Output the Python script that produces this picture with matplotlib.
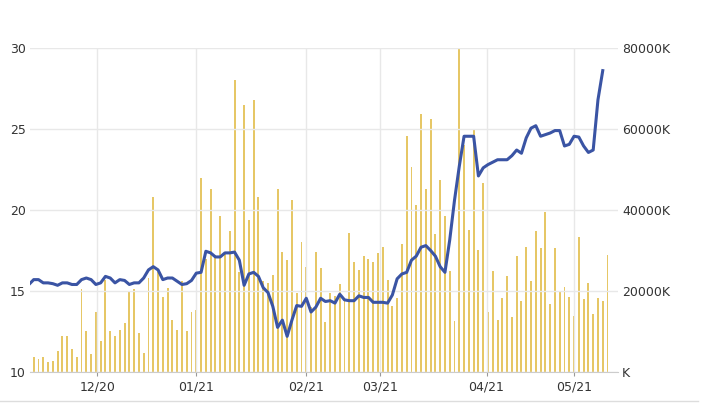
import matplotlib.pyplot as plt
import numpy as np

# bar values read in left-axis units (10..30), converted to K below
bars_left = [10.9, 10.8, 10.9, 10.6, 10.7, 11.3, 12.2, 12.2, 11.4, 10.9, 15.1, 12.5,
             11.1, 13.7, 11.9, 15.7, 12.5, 12.2, 12.6, 13.0, 15.0, 15.1, 12.4, 11.2,
             15.8, 20.8, 16.2, 14.6, 15.2, 13.2, 12.6, 15.6, 12.5, 13.7, 13.8, 22.0,
             17.0, 21.3, 17.2, 19.6, 17.3, 18.7, 28.0, 16.2, 26.5, 19.4, 26.8, 20.8,
             15.6, 15.5, 16.0, 21.3, 17.4, 16.9, 20.6, 14.9, 18.0, 16.5, 14.0, 17.4,
             16.4, 13.1, 14.9, 14.7, 15.4, 14.5, 18.6, 16.8, 16.3]
bars_k_right = [28.7, 28.0, 27.2, 29.4, 30.8, 22.6, 16.2, 18.2, 31.6, 58.2, 50.6, 41.3,
                63.6, 45.2, 62.5, 34.0, 47.4, 38.4, 25.0, 12.5, 80.0, 56.0, 35.0, 60.0,
                30.2, 46.7, 14.7, 25.0, 12.9, 18.3, 23.7, 13.5, 28.7, 17.5, 30.8, 22.5,
                34.8, 30.5, 39.5, 16.8, 30.5, 20.0, 21.1, 18.6, 13.9, 33.3, 18.0, 21.9,
                14.3, 18.2, 17.5, 29.0]
volume_k = [(v - 10) * 4000 for v in bars_left] + [v * 1000 for v in bars_k_right]

price = [15.4, 15.7, 15.7, 15.5, 15.5, 15.45, 15.35, 15.5, 15.5, 15.4, 15.4, 15.7,
         15.8, 15.7, 15.4, 15.5, 15.9, 15.8, 15.5, 15.7, 15.65, 15.4, 15.5, 15.5,
         15.8, 16.3, 16.5, 16.3, 15.7, 15.8, 15.8, 15.6, 15.4, 15.45, 15.65, 16.1,
         16.15, 17.45, 17.35, 17.1, 17.1, 17.35, 17.35, 17.4, 16.9, 15.35, 16.05, 16.15,
         15.9, 15.2, 14.9, 14.05, 12.75, 13.2, 12.2, 13.2, 14.1, 14.05, 14.55, 13.7,
         14.0, 14.55, 14.35, 14.4, 14.25, 14.8, 14.45, 14.4,
         14.4, 14.7, 14.6, 14.6, 14.3, 14.3, 14.3, 14.25, 14.75, 15.75, 16.05, 16.15,
         16.9, 17.15, 17.7, 17.8, 17.5, 17.15, 16.5, 16.15, 18.15, 20.6, 22.7, 24.55,
         24.55, 24.55, 22.1, 22.6, 22.8, 22.95, 23.1, 23.1, 23.1, 23.35, 23.7, 23.5,
         24.45, 25.05, 25.2, 24.55, 24.65, 24.75, 24.9, 24.9, 23.95, 24.05, 24.55, 24.5,
         23.95, 23.55, 23.7, 26.8, 28.6]

tick_pos = [13.3, 33.9, 56.9, 72.5, 94.7, 113.0]
tick_labels = ["12/20", "01/21", "02/21", "03/21", "04/21", "05/21"]

fig = plt.figure(figsize=(7.2, 4.03), dpi=100)
ax = fig.add_axes([0.0417, 0.077, 0.8167, 0.804])
ax2 = ax.twinx()

xb = np.arange(len(volume_k))
ax2.bar(xb, volume_k, width=0.4, color="#E6C766", linewidth=0, zorder=1)
xl = np.arange(-1, len(price) - 1)
ax.plot(xl, price, color="#3A54A4", linewidth=2.2, zorder=3)

ax.set_zorder(ax2.get_zorder() + 1)
ax.patch.set_visible(False)

ax.set_xlim(-0.77, 122.2)
ax.set_ylim(10, 30)
ax.set_yticks([10, 15, 20, 25, 30])
ax2.set_ylim(0, 80000)
ax2.set_yticks([0, 20000, 40000, 60000, 80000])
ax2.set_yticklabels(["K", "20000K", "40000K", "60000K", "80000K"])
ax.set_xticks(tick_pos)
ax.set_xticklabels(tick_labels)

ax.grid(color="#e8e8e8", linewidth=1)
ax.set_axisbelow(True)
for a in (ax, ax2):
    for s in a.spines.values():
        s.set_visible(False)
    a.tick_params(length=0, labelsize=9, colors="#333333", pad=3)
ax.tick_params(axis="x", length=3, color="#999999")
ax.spines["bottom"].set_visible(True)
ax.spines["bottom"].set_color("#cccccc")

fig.add_artist(plt.Line2D([0, 0.97], [0.005, 0.005], color="#dddddd", linewidth=1))

fig.savefig("out.png", dpi=100)
